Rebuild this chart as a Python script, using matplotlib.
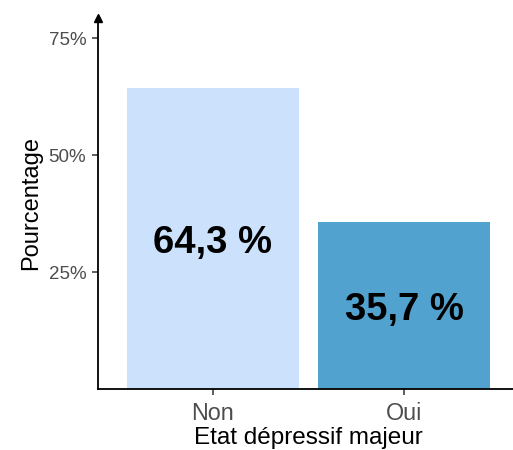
import numpy as np
import matplotlib
matplotlib.use('Agg')
import matplotlib.pyplot as plt

# data
categories = ["Non", "Oui"]
values = [64.3, 35.7]
bar_labels = ["64,3 %", "35,7 %"]
bar_colors = ["#cce1fc", "#52a2cf"]
yticks = [25, 50, 75]
ytick_labels = ["25%", "50%", "75%"]

plt.rcParams['font.family'] = ['Liberation Sans', 'DejaVu Sans']


def main():
    fig = plt.figure(figsize=(5.13, 4.5), dpi=100)
    ax = fig.add_axes([98 / 513, 61 / 450, 421 / 513, 371 / 450])

    x = np.arange(1, len(categories) + 1)
    ax.bar(x, values, width=0.9, color=bar_colors, zorder=2)
    for xi, v, lab in zip(x, values, bar_labels):
        ax.text(xi, v / 2 - 1.0, lab, ha='center', va='center', fontsize=27.5,
                fontweight='bold', color='black', zorder=3)

    ax.set_xlim(0.4, 2.6)
    ax.set_ylim(0, 79.3)
    ax.set_xticks(x)
    ax.set_xticklabels(categories)
    ax.set_yticks(yticks)
    ax.set_yticklabels(ytick_labels)

    for s in ['top', 'right']:
        ax.spines[s].set_visible(False)
    for s in ['left', 'bottom']:
        ax.spines[s].set_linewidth(1.3)
        ax.spines[s].set_color('black')

    ax.tick_params(axis='y', labelsize=13.5, labelcolor='#4d4d4d', color='#333333',
                   length=4, width=1.1, pad=4.5)
    ax.tick_params(axis='x', labelsize=16.8, labelcolor='#4d4d4d', color='#333333',
                   length=4, width=1.1, pad=5)
    ax.set_xlabel("Etat dépressif majeur", fontsize=17.5, labelpad=2)
    ax.set_ylabel("Pourcentage", fontsize=17, labelpad=5)

    # arrow head at the top of the y axis
    ax.plot(0, 1, marker='^', color='black', markersize=6, transform=ax.transAxes,
            clip_on=False, zorder=5)

    fig.savefig("out.png", dpi=100)


if __name__ == "__main__":
    main()
